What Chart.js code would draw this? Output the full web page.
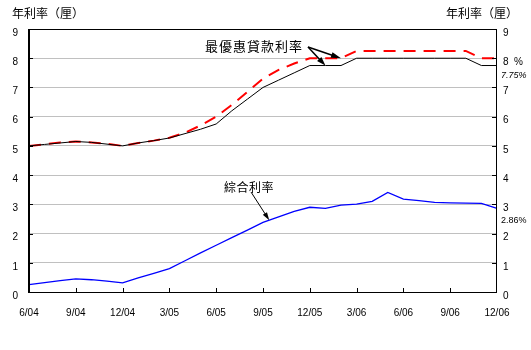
<!DOCTYPE html>
<html>
<head>
<meta charset="utf-8">
<script src="https://cdn.jsdelivr.net/npm/chart.js@4.4.0/dist/chart.umd.min.js"></script>
<style>
  html, body { margin: 0; padding: 0; background: #fff; }
  canvas { display: block; }
</style>
</head>
<body>
<canvas id="rate-chart" width="531" height="350"></canvas>
<script>
// 每月數據 6/04 - 12/06
var months = ['6/04', '7/04', '8/04', '9/04', '10/04', '11/04', '12/04',
  '1/05', '2/05', '3/05', '4/05', '5/05', '6/05', '7/05', '8/05', '9/05', '10/05', '11/05', '12/05',
  '1/06', '2/06', '3/06', '4/06', '5/06', '6/06', '7/06', '8/06', '9/06', '10/06', '11/06', '12/06'];
var tickLabels = ['6/04', '9/04', '12/04', '3/05', '6/05', '9/05', '12/05', '3/06', '6/06', '9/06', '12/06'];

// 最優惠貸款利率 (兩條)
var primeLow = [5.0, 5.05, 5.1, 5.15, 5.12, 5.06, 5.0, 5.1, 5.18, 5.27, 5.42, 5.57, 5.75, 6.2, 6.6, 7.0,
  7.25, 7.5, 7.75, 7.75, 7.75, 8.0, 8.0, 8.0, 8.0, 8.0, 8.0, 8.0, 8.0, 7.75, 7.75];
var primeHigh = [5.0, 5.05, 5.12, 5.15, 5.12, 5.07, 5.0, 5.1, 5.18, 5.28, 5.45, 5.7, 6.0, 6.4, 6.85, 7.3,
  7.6, 7.82, 8.0, 8.0, 8.0, 8.25, 8.25, 8.25, 8.25, 8.25, 8.25, 8.25, 8.25, 8.0, 8.0];
// 綜合利率
var composite = [0.25, 0.32, 0.39, 0.45, 0.42, 0.37, 0.31, 0.48, 0.64, 0.8, 1.07, 1.34, 1.6, 1.86, 2.12, 2.38,
  2.57, 2.76, 2.9, 2.86, 2.97, 3.01, 3.1, 3.41, 3.18, 3.13, 3.07, 3.05, 3.04, 3.03, 2.86];

var LATIN = '"Liberation Sans", Arial, sans-serif';
var CJK = '"Noto Sans CJK TC", sans-serif';

function valueAt(arr, t) {
  var i = Math.floor(t), f = t - i;
  if (i >= arr.length - 1) return arr[arr.length - 1];
  return arr[i] + (arr[i + 1] - arr[i]) * f;
}

function arrow(c, x0, y0, x1, y1, len, half) {
  var ang = Math.atan2(y1 - y0, x1 - x0);
  var cos = Math.cos(ang), sin = Math.sin(ang);
  c.beginPath();
  c.moveTo(x0, y0);
  c.lineTo(x1 - cos * len * 0.7, y1 - sin * len * 0.7);
  c.stroke();
  c.beginPath();
  c.moveTo(x1, y1);
  c.lineTo(x1 - len * cos + half * sin, y1 - len * sin - half * cos);
  c.lineTo(x1 - len * cos - half * sin, y1 - len * sin + half * cos);
  c.closePath();
  c.fill();
}

var decor = {
  id: 'decor',
  afterDraw: function (chart) {
    var c = chart.ctx, a = chart.chartArea;
    var x = chart.scales.x, y = chart.scales.y;
    c.save();

    // frame
    c.fillStyle = '#000';
    c.fillRect(a.left, a.top, a.right - a.left, 1);
    c.fillRect(a.left - 1, a.top, 2, a.bottom - a.top + 1);
    c.fillRect(a.left, a.bottom, a.right - a.left, 1);
    c.fillRect(a.right - 1, a.top, 1, a.bottom - a.top + 1);

    // tick marks pointing inward
    c.strokeStyle = '#000';
    c.lineWidth = 1;
    c.beginPath();
    for (var v = 1; v < 9; v++) {
      var py = Math.round(y.getPixelForValue(v)) + 0.5;
      c.moveTo(a.left, py); c.lineTo(a.left + 4, py);
      c.moveTo(a.right - 5, py); c.lineTo(a.right, py);
    }
    months.forEach(function (m, i) {
      if (tickLabels.indexOf(m) < 0 || i === 0 || i === months.length - 1) return;
      var px = Math.round(x.getPixelForValue(i)) + 0.5;
      c.moveTo(px, a.bottom); c.lineTo(px, a.bottom - 4);
    });
    c.stroke();

    // unit titles
    c.fillStyle = '#000';
    c.textBaseline = 'middle';
    c.font = '12px ' + CJK;
    c.textAlign = 'left';
    c.fillText('年利率（厘）', 12, 13);
    c.fillText('年利率（厘）', 446, 13);

    // 最優惠貸款利率 with two arrows
    c.font = '13px ' + CJK;
    c.letterSpacing = '1px';
    c.fillText('最優惠貸款利率', 205, 46);
    c.letterSpacing = '0px';
    c.lineWidth = 1.5;
    var tail = [308, 47];
    arrow(c, tail[0], tail[1], x.getPixelForValue(20), y.getPixelForValue(primeHigh[20]), 10, 3);
    arrow(c, tail[0], tail[1], x.getPixelForValue(19), y.getPixelForValue(primeLow[19]), 9, 3);

    // 綜合利率
    c.font = '12px ' + CJK;
    c.letterSpacing = '0.5px';
    c.fillText('綜合利率', 224, 187);
    c.letterSpacing = '0px';
    c.lineWidth = 1;
    arrow(c, 251, 192, x.getPixelForValue(15.4), y.getPixelForValue(valueAt(composite, 15.4)), 8, 2.5);

    // latest values on the right
    var last = months.length - 1;
    c.font = '10px ' + LATIN;
    c.fillText('%', 514, y.getPixelForValue(primeHigh[last]) + 4);
    c.font = 'italic 9px ' + LATIN;
    c.fillText(primeLow[last].toFixed(2) + '%', 501, y.getPixelForValue(primeLow[last]) + 10);
    c.font = '9px ' + LATIN;
    c.fillText(composite[last].toFixed(2) + '%', 501, y.getPixelForValue(composite[last]) + 12);

    c.restore();
  }
};

var tickFont = { family: LATIN, size: 10 };

new Chart(document.getElementById('rate-chart'), {
  type: 'line',
  data: {
    labels: months,
    datasets: [{
      label: '綜合利率',
      data: composite,
      borderColor: '#0000ff',
      borderWidth: 1.3
    }, {
      label: '最優惠貸款利率',
      data: primeLow,
      borderColor: '#000000',
      borderWidth: 1
    }, {
      label: '最優惠貸款利率',
      data: primeHigh,
      borderColor: '#ff0000',
      borderWidth: 2,
      borderDash: [12, 8]
    }]
  },
  options: {
    responsive: false,
    animation: false,
    devicePixelRatio: 1,
    layout: { padding: { top: 29, left: 0, right: 0, bottom: 0 } },
    elements: { point: { radius: 0 }, line: { tension: 0 } },
    plugins: { legend: { display: false }, tooltip: { enabled: false } },
    scales: {
      x: {
        offset: false,
        grid: { display: false, drawTicks: false },
        border: { display: false },
        ticks: {
          autoSkip: false,
          maxRotation: 0,
          padding: 15,
          color: '#000',
          font: tickFont,
          callback: function (v, i) { return tickLabels.indexOf(months[i]) >= 0 ? months[i] : null; }
        },
        afterFit: function (s) { s.height = 58; }
      },
      y: {
        position: 'left',
        min: 0, max: 9,
        grid: { color: '#c0c0c0', drawTicks: false },
        border: { display: false },
        ticks: { stepSize: 1, padding: 11, labelOffset: 4, color: '#000', font: tickFont },
        afterFit: function (s) { s.width = 29; }
      },
      y2: {
        position: 'right',
        display: true,
        min: 0, max: 9,
        grid: { display: false, drawTicks: false },
        border: { display: false },
        ticks: { stepSize: 1, padding: 6, labelOffset: 4, color: '#000', font: tickFont },
        afterFit: function (s) { s.width = 34; }
      }
    }
  },
  plugins: [decor]
});
</script>
</body>
</html>
